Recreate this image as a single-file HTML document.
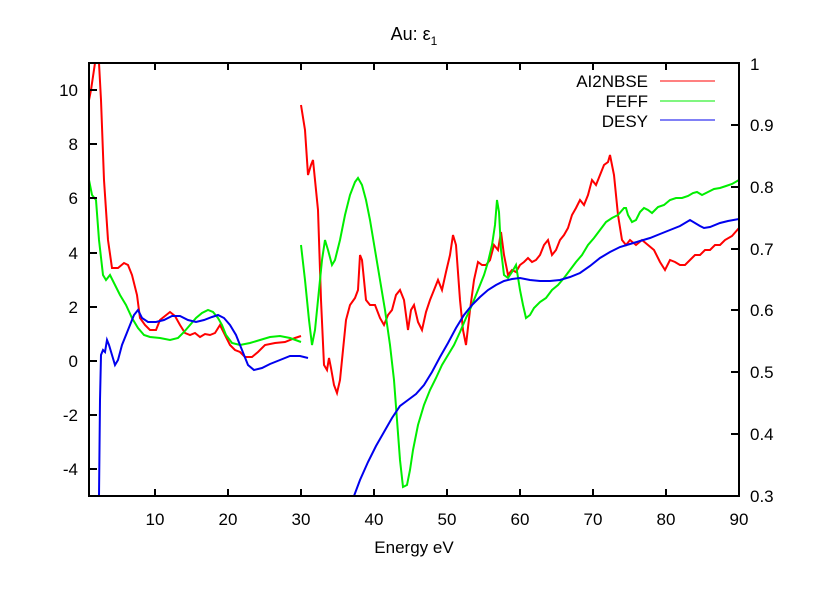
<!DOCTYPE html>
<html><head><meta charset="utf-8"><style>body{margin:0;background:#fff}svg{display:block;font-family:"Liberation Sans",sans-serif}</style></head><body>
<svg width="820" height="600" viewBox="0 0 820 600">
<rect width="820" height="600" fill="#fff"/>
<defs><clipPath id="c"><rect x="89" y="63" width="650" height="433"/></clipPath></defs>
<g clip-path="url(#c)" fill="none" stroke-width="2">
<polyline stroke="#f00" points="89,100 91,90 95,63 99,63 101,100 104,180 108,240 112,268 118,268 124,263 128,265 132,275 137,295 140,318 145,325 150,330 156,330 160,320 165,316 170,312 175,316 180,325 185,333 190,335 195,333 200,337 205,334 210,335 215,333 220,325 225,335 230,345 235,350 240,352 245,357 252,357 258,352 265,345 275,343 285,342 295,338 301,336"/>
<polyline stroke="#f00" points="301,105 305,130 308,175 311,165 313,160 315,180 318,210 321,300 324,365 327,370 329,358 331,368 334,385 337,393 340,380 343,350 346,320 350,305 355,298 358,290 360,255 362,260 366,300 370,305 375,305 380,318 384,325 388,315 392,310 396,295 400,290 404,300 408,330 411,310 414,305 418,322 422,330 426,312 430,300 434,290 438,280 442,290 446,272 450,255 453,235 456,245 460,300 463,330 466,345 470,310 474,280 478,262 482,265 486,265 490,260 494,245 498,250 501,232 504,255 508,275 512,270 516,272 520,265 524,262 528,258 532,262 536,260 540,255 544,245 548,240 552,255 556,250 560,240 564,235 568,228 572,215 576,208 580,200 584,205 588,195 592,180 596,185 600,175 604,165 608,162 610,155 614,175 618,215 622,240 626,245 630,240 636,245 642,240 648,245 654,250 660,262 665,270 670,260 675,262 680,265 685,265 690,260 695,255 700,255 705,250 710,250 715,245 720,245 725,240 732,236 739,228"/>
<polyline stroke="#0e0" points="89,180 92,195 96,200 99,240 103,275 106,280 110,275 115,285 120,295 126,305 132,318 138,328 144,335 150,337 160,338 170,340 178,338 184,332 190,325 196,318 202,313 208,310 213,312 218,318 222,325 226,335 232,343 240,345 250,343 260,340 270,337 280,336 290,338 301,342"/>
<polyline stroke="#0e0" points="301,245 305,280 309,320 312,345 315,330 318,300 322,260 325,240 328,250 332,265 335,260 340,240 345,215 350,195 355,182 358,178 362,185 366,200 370,220 375,250 380,280 385,310 390,345 394,380 397,420 400,460 403,487 407,485 410,470 413,450 418,425 424,405 430,390 436,378 442,365 448,355 454,345 460,332 466,318 472,305 478,290 484,275 488,262 492,245 495,225 497,200 499,212 501,250 504,275 508,278 512,272 516,265 520,290 523,305 526,318 530,315 534,308 540,302 546,298 552,290 558,285 564,278 570,270 576,262 582,255 588,245 594,238 600,230 606,222 612,218 618,215 624,208 626,208 628,215 632,222 636,220 640,212 644,208 648,210 652,213 658,207 664,205 670,200 676,198 682,198 688,196 693,193 697,192 702,195 708,192 714,189 720,188 726,186 732,184 739,180"/>
<polyline stroke="#00e" points="99,496 100,400 101,355 103,350 105,352 107,340 109,345 112,355 115,365 118,360 122,345 128,330 134,315 138,310 142,318 148,322 156,322 164,320 172,316 180,316 188,320 196,322 204,320 212,317 218,315 224,318 230,325 236,335 242,350 248,365 254,370 262,368 270,364 280,360 290,356 300,356 308,358"/>
<polyline stroke="#00e" points="354,496 360,480 368,462 376,446 384,432 392,418 400,406 408,400 416,394 424,385 432,372 440,357 448,343 456,328 464,315 472,305 480,297 488,290 496,285 504,281 512,279 520,278 530,280 540,281 550,281 560,280 570,277 580,273 590,266 600,258 610,252 620,247 630,244 640,241 650,238 660,234 670,230 680,226 690,220 700,226 704,228 710,227 720,223 728,221 739,219"/>
</g>
<g stroke="#000" stroke-width="2" fill="none">
<rect x="89" y="63" width="650" height="433"/>
<path d="M155,496v-7M228,496v-7M301,496v-7M374,496v-7M447,496v-7M520,496v-7M593,496v-7M666,496v-7M155,63v7M228,63v7M301,63v7M374,63v7M447,63v7M520,63v7M593,63v7M666,63v7
M89,90h8M89,144h8M89,198h8M89,253h8M89,307h8M89,361h8M89,415h8M89,469h8
M739,125h-8M739,187h-8M739,249h-8M739,310h-8M739,372h-8M739,434h-8"/>
</g>
<g font-size="17" fill="#000">
<g text-anchor="end">
<text x="78" y="96">10</text><text x="78" y="150">8</text><text x="78" y="204">6</text><text x="78" y="259">4</text><text x="78" y="313">2</text><text x="78" y="367">0</text><text x="78" y="421">-2</text><text x="78" y="475">-4</text>
</g>
<g text-anchor="start">
<text x="750" y="70">1</text><text x="750" y="131">0.9</text><text x="750" y="193">0.8</text><text x="750" y="255">0.7</text><text x="750" y="316">0.6</text><text x="750" y="378">0.5</text><text x="750" y="440">0.4</text><text x="750" y="502">0.3</text>
</g>
<g text-anchor="middle">
<text x="155" y="525">10</text><text x="228" y="525">20</text><text x="301" y="525">30</text><text x="374" y="525">40</text><text x="447" y="525">50</text><text x="520" y="525">60</text><text x="593" y="525">70</text><text x="666" y="525">80</text><text x="739" y="525">90</text>
<text x="414" y="553">Energy eV</text>
<text x="414" y="40" font-size="18">Au: ε<tspan font-size="12" dy="5">1</tspan></text>
</g>
<g text-anchor="end">
<text x="648" y="87">AI2NBSE</text><text x="648" y="107">FEFF</text><text x="648" y="127">DESY</text>
</g>
</g>
<path d="M660,81h55" stroke="#f00" stroke-width="1"/>
<path d="M660,101h55" stroke="#0e0" stroke-width="1"/>
<path d="M660,120h55" stroke="#00e" stroke-width="1"/>
</svg>
</body></html>
